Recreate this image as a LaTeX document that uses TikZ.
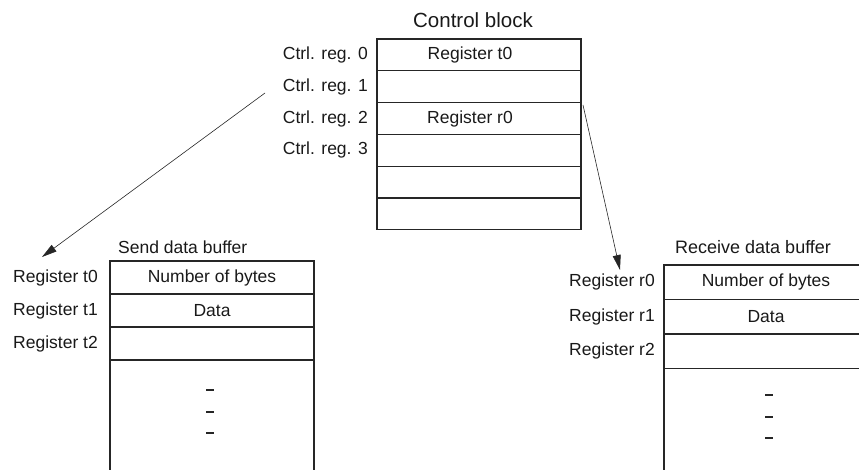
\documentclass[tikz,border=0pt]{standalone}
\usepackage{fontspec}
\setmainfont{Liberation Sans}
\usetikzlibrary{positioning,arrows.meta}

\begin{document}
\begin{tikzpicture}[
  x=1pt, y=-1pt,
  txt/.style={font=\fontsize{17.5}{21}\selectfont, text=black!90},
  cell/.style={draw=black!85, line width=1.3pt, minimum width=204pt,
               minimum height=31.8pt, inner sep=0pt, outer sep=0pt,
               txt},
  sendcell/.style={cell, minimum height=33pt},
  recvcell/.style={cell, minimum height=34.5pt},
  lbl/.style={txt, inner sep=0pt},
  wall/.style={draw=black!85, line width=1.3pt},
  ptr/.style={black!85, line width=0.6pt, -{Triangle[length=15pt,width=8pt]}},
]
\useasboundingbox (0,0) rectangle (859,470);
\clip (0,0) rectangle (859,470);

% Control block
\node[lbl, font=\fontsize{20.5}{24}\selectfont] (cbtitle) at (473, 20) {Control block};
\node[cell, anchor=north west] (cb0) at (377, 39) {Register t0\kern18pt};
\node[cell, below=0pt of cb0] (cb1) {};
\node[cell, below=0pt of cb1] (cb2) {Register r0\kern18pt};
\node[cell, below=0pt of cb2] (cb3) {};
\node[cell, below=0pt of cb3] (cb4) {};
\node[cell, below=0pt of cb4] (cb5) {};
\node[lbl, left=9pt of cb0] (creg0) {Ctrl. reg. 0};
\node[lbl, left=9pt of cb1] (creg1) {Ctrl. reg. 1};
\node[lbl, left=9pt of cb2] (creg2) {Ctrl. reg. 2};
\node[lbl, left=9pt of cb3] (creg3) {Ctrl. reg. 3};

% Send data buffer
\node[lbl, anchor=west] (sbtitle) at (118, 247) {Send data buffer};
\node[sendcell, anchor=north west] (sb0) at (110, 261) {Number of bytes};
\node[sendcell, below=0pt of sb0] (sb1) {Data};
\node[sendcell, below=0pt of sb1] (sb2) {};
\node[lbl, left=12pt of sb0] (sreg0) {Register t0};
\node[lbl, left=12pt of sb1] (sreg1) {Register t1};
\node[lbl, left=12pt of sb2] (sreg2) {Register t2};

% Receive data buffer
\node[lbl, anchor=west, font=\fontsize{18}{21}\selectfont] (rbtitle) at (675, 247) {Receive data buffer};
\node[recvcell, anchor=north west] (rb0) at (664, 265) {Number of bytes};
\node[recvcell, below=0pt of rb0] (rb1) {Data};
\node[recvcell, below=0pt of rb1] (rb2) {};
\node[lbl, left=9pt of rb0] (rreg0) {Register r0};
\node[lbl, left=9pt of rb1] (rreg1) {Register r1};
\node[lbl, left=9pt of rb2] (rreg2) {Register r2};

% Open lower parts of the buffers
\coordinate (floor) at (0, 480);
\draw[wall] (sb2.south west) -- (sb2.south west |- floor);
\draw[wall] (sb2.south east) -- (sb2.south east |- floor);
\draw[wall] (rb2.south west) -- (rb2.south west |- floor);
\draw[wall] (rb2.south east) -- (rb2.south east |- floor);
\foreach \y in {390, 412, 433}
  \draw[wall] (206, \y) -- (214, \y);
\foreach \y in {395, 417, 438}
  \draw[wall] (765, \y) -- (773, \y);

% Pointers from the control block
\coordinate (sendfrom) at (265, 93);
\coordinate (sendto) at (42, 257);
\coordinate (recvfrom) at (583, 105);
\coordinate (recvto) at (620, 270);
\draw[ptr] (sendfrom) -- (sendto);
\draw[ptr] (recvfrom) -- (recvto);

\end{tikzpicture}
\end{document}
